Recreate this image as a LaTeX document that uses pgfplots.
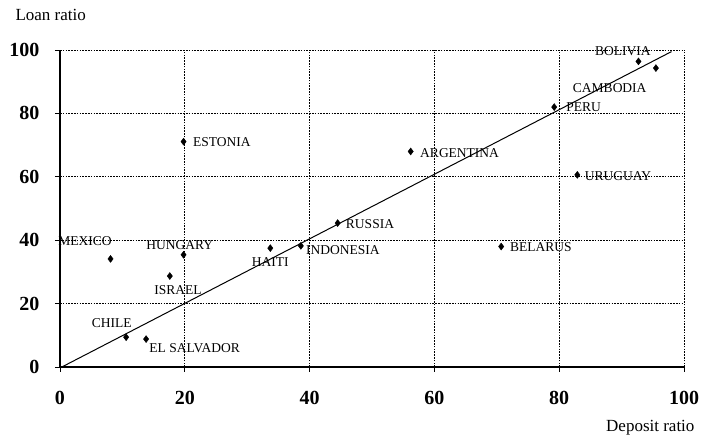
\documentclass[border=0pt]{standalone}
\usepackage{pgfplots}
\pgfplotsset{compat=1.18}
\usepackage{fontspec}
\setmainfont{Liberation Serif}
\begin{document}
\begin{tikzpicture}
\begin{axis}[
  width=624pt, height=317pt, scale only axis,
  xmin=0, xmax=100, ymin=0, ymax=100,
  axis x line*=bottom, axis y line*=left,
  axis line style={-, line width=1.1pt, black},
  xtick={0,20,...,100}, ytick={0,20,...,100},
  tick align=outside, major tick length=5pt,
  tick style={black, line width=0.8pt},
  grid=major,
  major grid style={black, line width=0.8pt, dash pattern=on 1.6pt off 1.2pt},
  /pgf/number format/assume math mode=true,
  ticklabel style={font=\fontsize{20}{22}\selectfont\bfseries},
  xticklabel style={yshift=-16pt},
  yticklabel style={xshift=-12pt},
  clip=false,
]
\addplot[black, line width=1pt, no marks] coordinates {(0,-0.3) (98,99.5)};
\addplot[only marks, mark=diamond*, mark size=3.5pt, black] coordinates {
(92.7,96.4) (95.5,94.3) (79.2,82.0) (19.8,71.1) (19.8,35.4) (17.6,28.7)
(33.7,37.5) (8.1,34.1) (10.6,9.4) (13.8,8.8) (38.6,38.2) (44.5,45.4)
(56.2,68.0) (70.7,38.0) (82.9,60.6)
};
\begin{scope}[every node/.style={font=\fontsize{13.5}{14}\selectfont, inner sep=0pt}]
\node at (axis cs:90.2,99.5) {BOLIVIA};
\node at (axis cs:88.1,88.1) {CAMBODIA};
\node[anchor=west] at (axis cs:81.1,82.1) {PERU};
\node[anchor=west] at (axis cs:21.3,71.0) {ESTONIA};
\node[anchor=west] at (axis cs:57.7,67.6) {ARGENTINA};
\node[anchor=west] at (axis cs:84.1,60.3) {URUGUAY};
\node[anchor=west] at (axis cs:45.8,45.2) {RUSSIA};
\node[anchor=west] at (axis cs:39.4,36.9) {INDONESIA};
\node[anchor=west] at (axis cs:72.1,37.9) {BELARUS};
\node at (axis cs:33.7,33.2) {HAITI};
\node at (axis cs:19.2,38.5) {HUNGARY};
\node[anchor=west] at (axis cs:-0.3,39.8) {MEXICO};
\node at (axis cs:18.9,24.3) {ISRAEL};
\node at (axis cs:8.3,13.9) {CHILE};
\node[anchor=west] at (axis cs:14.3,6.0) {EL SALVADOR};
\end{scope}
\end{axis}
\node[anchor=west, font=\fontsize{17}{19}\selectfont] at ([shift={(-48pt,35pt)}]current axis.north west) {Loan ratio};
\node[anchor=east, font=\fontsize{17}{19}\selectfont] at ([shift={(14pt,-61pt)}]current axis.south east) {Deposit ratio};
\path[use as bounding box] ([shift={(-60pt,-69pt)}]current axis.south west) rectangle ([shift={(21pt,50pt)}]current axis.north east);
\end{tikzpicture}
\end{document}
